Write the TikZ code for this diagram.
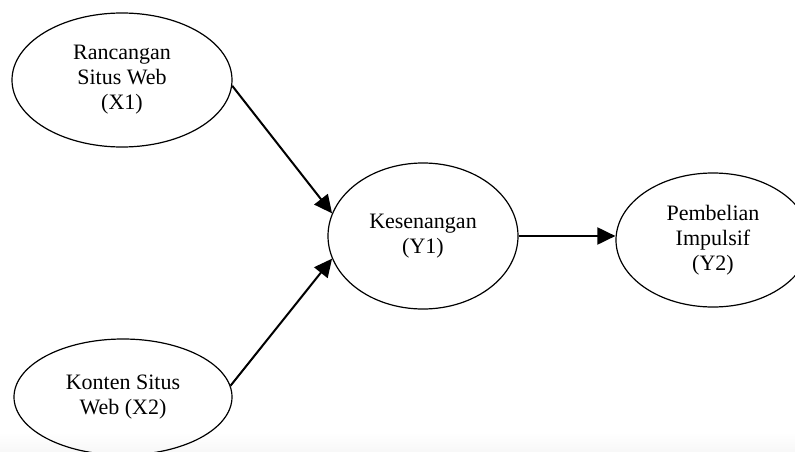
\documentclass[tikz,border=0pt]{standalone}
\usepackage{fontspec}
\setmainfont{Liberation Serif}
\usetikzlibrary{shapes.geometric,arrows.meta}

\begin{document}
\begin{tikzpicture}[x=1pt, y=-1pt, >={Triangle[length=18pt,width=17pt]},
	main node/.style={ellipse,draw,line width=1.2pt,inner sep=0pt,align=center,
		font=\fontsize{22}{25}\selectfont}]
	\useasboundingbox (0,0) rectangle (795,452);
	\shade[top color=white,bottom color=black!3] (0,432) rectangle (795,452);
	
	\node[main node,minimum width=220pt,minimum height=134pt] (x1) at (122,80) {Rancangan\\Situs Web\\(X1)};
	\node[main node,minimum width=218pt,minimum height=116pt] (x2) at (123,397) {Konten Situs\\Web (X2)};
	\node[main node,minimum width=190pt,minimum height=146pt] (y1) at (423,236) {Kesenangan\\(Y1)};
	\node[main node,minimum width=194pt,minimum height=134pt] (y2) at (713,240) {Pembelian\\Impulsif\\(Y2)};
	
	\path[->,line width=2pt]
	(x1.-3) edge (y1.166)
	(x2.6) edge (y1.194)
	(y1.east) edge (y1.east -| y2.west);
\end{tikzpicture}
\end{document}
